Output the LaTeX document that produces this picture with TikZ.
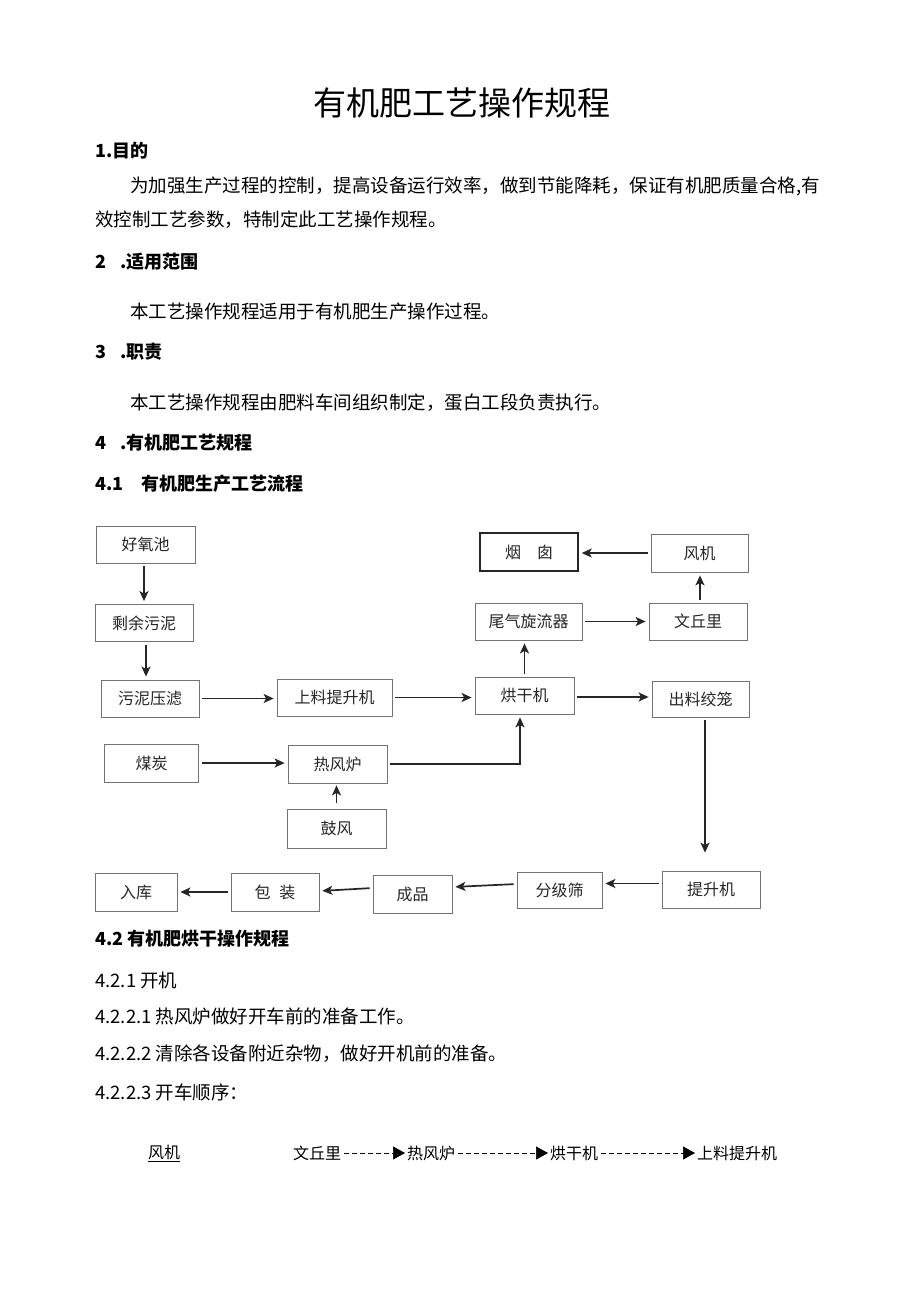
\documentclass[tikz,border=0pt]{standalone}
\usepackage{fontspec}
\setmainfont{Noto Sans CJK SC}
\usetikzlibrary{arrows.meta,calc}
\newcommand{\fsz}[1]{\fontsize{#1pt}{#1pt}\selectfont}
\begin{document}
\begin{tikzpicture}[x=1pt,y=-1pt,
  txt/.style={anchor=west,inner sep=0pt,font=\fsz{18.5}},
  hd/.style={anchor=west,inner sep=0pt,font=\fsz{18}\bfseries},
  box/.style={draw=black!55,line width=0.8pt,inner sep=0pt,minimum height=37pt,font=\fsz{16},text=black!85},
  flow/.style={line width=1.7pt,draw=black!85,-{Stealth[length=10pt,width=9pt,inset=2.5pt]},shorten <=3pt,shorten >=3pt},
  seq/.style={line width=0.7pt,dash pattern=on 5pt off 3pt,-{Triangle[length=12pt,width=13pt]},shorten <=3pt,shorten >=2pt},
  seqtxt/.style={anchor=west,inner sep=0pt,font=\fsz{16}}]
\fill[white] (0,0) rectangle (920,1301);
\useasboundingbox (0,0) rectangle (920,1301);

% Title and text
\node[inner sep=0pt,font=\fsz{33}] (title) at (462,103) {有机肥工艺操作规程};
\node[hd] (h1) at (95,151) {1.目的};
\node[txt] (p1a) at (130,186) {为加强生产过程的控制，提高设备运行效率，做到节能降耗，保证有机肥质量合格,有};
\node[txt] (p1b) at (95,220) {效控制工艺参数，特制定此工艺操作规程。};
\node[hd] (h2) at (95,262) {2\hspace{14pt}.适用范围};
\node[txt] (p2) at (130,312) {本工艺操作规程适用于有机肥生产操作过程。};
\node[hd] (h3) at (95,352) {3\hspace{14pt}.职责};
\node[txt] (p3) at (130,403) {本工艺操作规程由肥料车间组织制定，蛋白工段负责执行。};
\node[hd] (h4) at (95,443) {4\hspace{14pt}.有机肥工艺规程};
\node[hd] (h41) at (95,484) {4.1\hspace{18pt}有机肥生产工艺流程};

% Flowchart boxes
\node[box,minimum width=99pt] (hy) at (145.5,544.5) {好氧池};
\node[box,minimum width=98pt] (sy) at (144,623) {剩余污泥};
\node[box,minimum width=98pt] (wn) at (150,698.5) {污泥压滤};
\node[box,minimum width=115pt] (sl) at (334.5,697.5) {上料提升机};
\node[box,minimum width=99pt] (hg) at (524.5,695.5) {烘干机};
\node[box,minimum width=97pt,minimum height=36pt] (cl) at (700.5,699) {出料绞笼};
\node[box,minimum width=107pt] (wq) at (528.5,621.5) {尾气旋流器};
\node[box,minimum width=98pt] (wl) at (698,621.5) {文丘里};
\node[box,minimum width=98pt,minimum height=38pt,draw=black!85,line width=1.4pt] (yc) at (529,552) {烟\hspace{16pt}囱};
\node[box,minimum width=97pt,minimum height=38pt] (fj) at (699.5,553) {风机};
\node[box,minimum width=94pt,minimum height=38pt] (mt) at (151.5,763) {煤炭};
\node[box,minimum width=99pt,minimum height=38pt] (rf) at (337.5,764) {热风炉};
\node[box,minimum width=99pt,minimum height=39pt] (gf) at (336.5,828.5) {鼓风};
\node[box,minimum width=98pt] (tj) at (711,889.5) {提升机};
\node[box,minimum width=85pt,minimum height=36pt] (fs) at (559.5,890) {分级筛};
\node[box,minimum width=79pt,minimum height=38pt] (cp) at (412.5,894) {成品};
\node[box,minimum width=88pt,minimum height=38pt] (bz) at (275,892) {包\hspace{9pt}装};
\node[box,minimum width=82pt,minimum height=38pt] (rk) at (136,892) {入库};

% Flowchart connectors
\draw[flow] ([xshift=-1.5pt]hy.south) -- ([xshift=-1.5pt]hy.south |- sy.north);
\draw[flow] ([xshift=2pt]sy.south) -- ([xshift=2pt]sy.south |- wn.north);
\draw[flow] (wn.east) -- (wn.east -| sl.west);
\draw[flow] (sl.east) -- (sl.east -| hg.west);
\draw[flow] ([yshift=-1.5pt]hg.east) -- ([yshift=-1.5pt]hg.east -| cl.west);
\draw[flow] (hg.north) -- (hg.north |- wq.south);
\draw[flow] (wq.east) -- (wq.east -| wl.west);
\draw[flow] ([xshift=2pt]wl.north) -- ([xshift=2pt]wl.north |- fj.south);
\draw[flow] (fj.west) -- (fj.west -| yc.east);
\draw[flow] (mt.east) -- (mt.east -| rf.west);
\draw[flow] (rf.east) -| ([xshift=-4.5pt]hg.south);
\draw[flow,shorten <=6pt,shorten >=2pt] (gf.north) -- (gf.north |- rf.south);
\draw[flow,shorten >=18pt] ([xshift=4.5pt]cl.south) -- ([xshift=4.5pt]cl.south |- tj.north);
\draw[flow] ([yshift=6pt]tj.west) -- ([yshift=6pt]tj.west -| fs.east);
\draw[flow] ([yshift=6pt]fs.west) -- ([yshift=7pt]cp.east);
\draw[flow] ([yshift=6pt]cp.west) -- ([yshift=1pt]bz.east);
\draw[flow] (bz.west) -- (bz.west -| rk.east);

% Section 4.2
\node[hd] (h42) at (95,939) {4.2 有机肥烘干操作规程};
\node[txt] (s421) at (95,980) {4.2.1 开机};
\node[txt] (s4221) at (95,1016) {4.2.2.1 热风炉做好开车前的准备工作。};
\node[txt] (s4222) at (95,1054) {4.2.2.2 清除各设备附近杂物，做好开机前的准备。};
\node[txt] (s4223) at (95,1092) {4.2.2.3 开车顺序：};

% Start sequence
\node[seqtxt] (q0) at (148,1153) {\underline{风机}};
\node[seqtxt] (q1) at (293,1153) {文丘里};
\node[seqtxt] (q2) at (407,1153) {热风炉};
\node[seqtxt] (q3) at (550,1153) {烘干机};
\node[seqtxt] (q4) at (697,1153) {上料提升机};
\draw[seq] (q1.east) -- (q2.west);
\draw[seq] (q2.east) -- (q3.west);
\draw[seq] (q3.east) -- (q4.west);
\end{tikzpicture}
\end{document}
